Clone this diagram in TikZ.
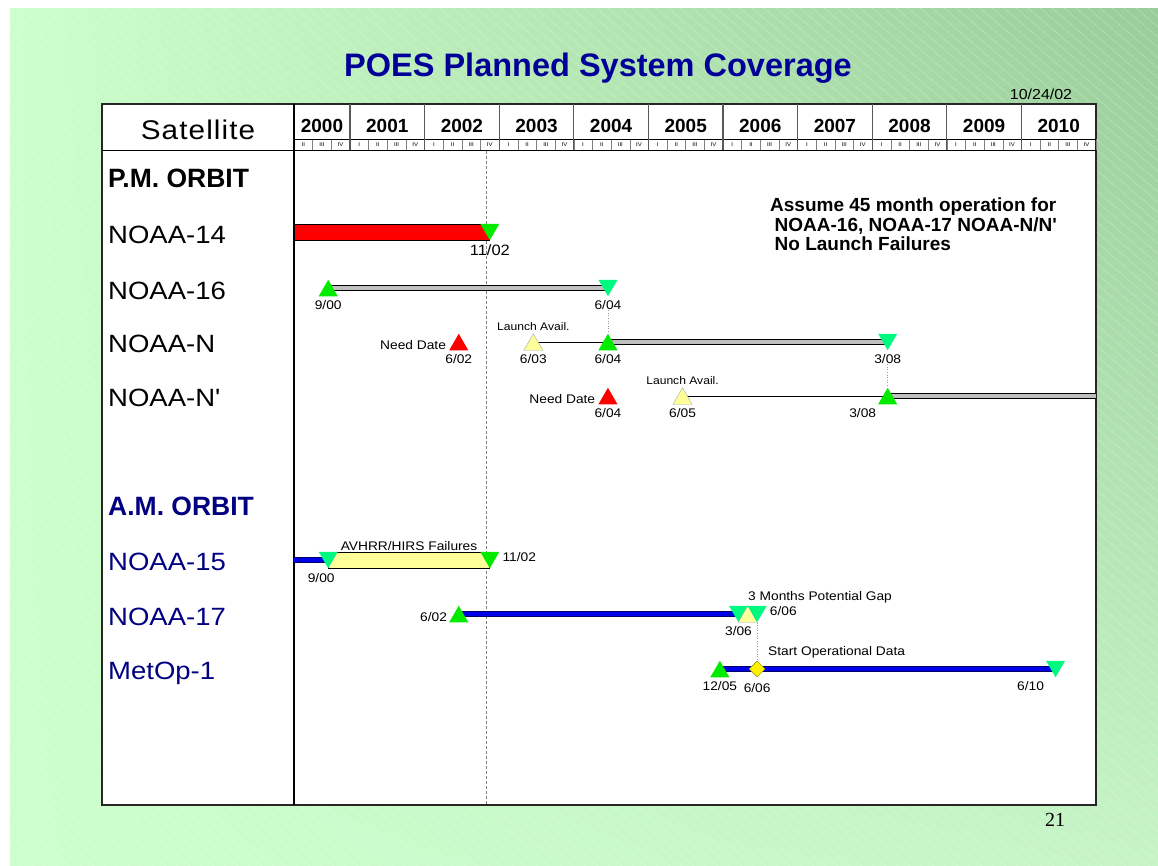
\documentclass[tikz,border=0pt]{standalone}
\usepackage{fontspec}
\setmainfont{Liberation Sans}
\newfontfamily\widefont[FakeStretch=1.1]{Liberation Sans}
\newfontfamily\pagefont{Liberation Serif}
\usepackage{tikz}
\usetikzlibrary{shapes,arrows,positioning,calc,shadings}
\definecolor{titleblue}{RGB}{0,0,153}
\definecolor{orbitblue}{RGB}{0,0,128}
\definecolor{bglight}{RGB}{204,255,204}
\definecolor{bgdark}{RGB}{153,204,153}
\definecolor{bglow}{RGB}{198,244,198}
\definecolor{launchgreen}{RGB}{0,235,0}
\definecolor{endgreen}{RGB}{0,250,128}
\definecolor{paleyellow}{RGB}{255,255,153}
\definecolor{barblue}{RGB}{0,0,235}
\newcommand{\datex}[2]{294+(#2+(#1-0.5)/12-0.25)*74.6}

\begin{document}
\begin{tikzpicture}[x=1pt, y=-1pt,
    upmark/.style={regular polygon, regular polygon sides=3, minimum size=22pt,
      inner sep=0pt, yshift=-2.75pt},
    downmark/.style={regular polygon, regular polygon sides=3, shape border rotate=180,
      minimum size=22pt, inner sep=0pt, yshift=2.75pt},
    rowlabel/.style={anchor=base west, inner sep=0pt, font=\widefont\fontsize{25}{30}\selectfont},
    orbitlabel/.style={anchor=base west, inner sep=0pt, font=\bfseries\fontsize{26.5}{30}\selectfont},
    yearlabel/.style={anchor=base, inner sep=0pt, font=\bfseries\fontsize{19}{22}\selectfont},
    quarterlabel/.style={inner sep=0pt, font=\widefont\fontsize{5.5}{6}\selectfont},
    datelabel/.style={inner sep=0pt, font=\widefont\fontsize{12.5}{14}\selectfont},
    notelabel/.style={inner sep=0pt, font=\widefont\fontsize{12.5}{14}\selectfont},
    graybar/.style={draw=black, line width=0.8pt, double=gray!50, double distance=3.5pt},
    bluebar/.style={draw=orbitblue!80!black, line width=0.9pt, double=barblue, double distance=3.5pt},
    thinbar/.style={draw=black, line width=0.8pt},
    dotline/.style={draw=gray!80, line width=0.6pt, dotted}
  ]
  \useasboundingbox (0,0) rectangle (1158,865);
  \fill[white] (0,0) rectangle (1158,865);
  \shade[upper left=bglight, upper right=bgdark, lower left=bglight, lower right=bglow]
    (10,8) rectangle (1158,865);
  \begin{scope}
    \clip (10,8) rectangle (1158,865);
    \foreach \i in {-1000,-988,...,1150}
      \draw[white, opacity=0.3, line width=0.5pt] (\i,8) -- ++(1000,860);
  \end{scope}

  \node[font=\bfseries\fontsize{32.5}{36}\selectfont, text=titleblue] (title) at (598,68)
    {POES Planned System Coverage};
  \node[datelabel, font=\widefont\fontsize{14.5}{16}\selectfont] (today) at (1041,94) {10/24/02};
  \node[font=\pagefont\fontsize{20}{22}\selectfont] (page) at (1055,820) {21};

  \draw[fill=white, draw=black!85, line width=1.3pt] (102,104) rectangle (1096,805);
  \foreach \q in {1,...,43} {
    \pgfmathtruncatemacro{\r}{mod(\q,4)+1}
    \node[quarterlabel] (q\q) at (294+18.65*\q-9.33,145)
      {\ifcase\r\or I\or II\or III\or IV\fi};
    \draw[gray, line width=0.4pt] (294+18.65*\q,139) -- (294+18.65*\q,150);
  }
  \draw[line width=0.6pt] (294,139) -- (1096,139);
  \node[yearlabel] (y2000) at (322,132) {2000};
  \foreach \yr [count=\k from 0] in {2001,...,2010} {
    \draw[gray!70!black, line width=1.2pt] (350+74.6*\k,104) -- (350+74.6*\k,150);
    \node[yearlabel] (y\yr) at (387.3+74.6*\k,132) {\yr};
  }
  \draw[line width=1pt] (102,150) -- (1096,150);
  \draw[line width=1.2pt] (294,104) -- (294,805);
  \node[anchor=base, inner sep=0pt, font=\widefont\fontsize{27}{30}\selectfont\addfontfeature{LetterSpace=4}]
    (sathead) at (198,139) {Satellite};

  \node[orbitlabel] (pm) at (108,187) {P.M. ORBIT};
  \node[rowlabel] (noaa14) at (108,243) {NOAA-14};
  \node[rowlabel] (noaa16) at (108,299) {NOAA-16};
  \node[rowlabel] (noaan) at (108,352.5) {NOAA-N};
  \node[rowlabel] (noaanp) at (108,406) {NOAA-N\textquotesingle};
  \node[orbitlabel, text=orbitblue] (am) at (108,515) {A.M. ORBIT};
  \node[rowlabel, text=orbitblue] (noaa15) at (108,570.5) {NOAA-15};
  \node[rowlabel, text=orbitblue] (noaa17) at (108,625) {NOAA-17};
  \node[rowlabel, text=orbitblue] (metop) at (108,679.5) {MetOp-1};

  \node[anchor=north west, inner sep=0pt, align=left,
        font=\bfseries\fontsize{19}{19.2}\selectfont] (assume) at (770,198)
    {Assume 45 month operation for\\\hspace{4.5pt}NOAA-16, NOAA-17 NOAA-N/N\textquotesingle\\\hspace{4.5pt}No Launch Failures};

  \coordinate (nowtop) at ({\datex{10.5}{2}},151);
  \coordinate (nowbot) at ({\datex{10.5}{2}},804);
  \draw[gray, line width=0.6pt, dash pattern=on 3pt off 2pt] (nowtop) -- (nowbot);

  \coordinate (c14s) at (294,232);
  \coordinate (d14e) at ({\datex{11}{2}},232);
  \coordinate (d16s) at ({\datex{9}{0}},288);
  \coordinate (d16e) at ({\datex{6}{4}},288);
  \coordinate (dNneed) at ({\datex{6}{2}},342);
  \coordinate (dNla) at ({\datex{6}{3}},342);
  \coordinate (dNs) at ({\datex{6}{4}},342);
  \coordinate (dNe) at ({\datex{3}{8}},342);
  \coordinate (dPneed) at ({\datex{6}{4}},396);
  \coordinate (dPla) at ({\datex{6}{5}},396);
  \coordinate (dPs) at ({\datex{3}{8}},396);
  \coordinate (ePe) at (1096,396);
  \coordinate (c15s) at (294,560);
  \coordinate (d15s) at ({\datex{9}{0}},560);
  \coordinate (d15e) at ({\datex{11}{2}},560);
  \coordinate (d17s) at ({\datex{6}{2}},614);
  \coordinate (d17a) at ({\datex{3}{6}},614);
  \coordinate (d17y) at ({\datex{4.5}{6}},614);
  \coordinate (d17b) at ({\datex{6}{6}},614);
  \coordinate (dMs) at ({\datex{12}{5}},669);
  \coordinate (dMop) at ({\datex{6}{6}},669);
  \coordinate (dMe) at ({\datex{6}{10}},669);

  \draw[fill=red, draw=black, line width=0.8pt] ([yshift=8pt]c14s) rectangle ([yshift=-8pt]d14e);
  \draw[graybar] (d16s) -- (d16e);
  \draw[thinbar] (dNla) -- (dNs);
  \draw[graybar] (dNs) -- (dNe);
  \draw[thinbar] (dPla) -- (dPs);
  \draw[graybar] (dPs) -- (ePe);
  \draw[bluebar] (c15s) -- (d15s);
  \draw[fill=paleyellow, draw=black, line width=0.8pt] ([yshift=8pt]d15s) rectangle ([yshift=-8pt]d15e);
  \draw[bluebar] (d17s) -- (d17a);
  \draw[bluebar] (dMs) -- (dMe);

  \node[downmark, fill=launchgreen] (t14e) at (d14e) {};
  \node[upmark, fill=launchgreen] (t16s) at (d16s) {};
  \node[downmark, fill=endgreen] (t16e) at (d16e) {};
  \node[upmark, fill=red] (tNneed) at (dNneed) {};
  \node[upmark, fill=paleyellow, draw=gray!70, line width=0.4pt] (tNla) at (dNla) {};
  \node[upmark, fill=launchgreen] (tNs) at (dNs) {};
  \node[downmark, fill=endgreen] (tNe) at (dNe) {};
  \node[upmark, fill=red] (tPneed) at (dPneed) {};
  \node[upmark, fill=paleyellow, draw=gray!70, line width=0.4pt] (tPla) at (dPla) {};
  \node[upmark, fill=launchgreen] (tPs) at (dPs) {};
  \node[downmark, fill=endgreen] (t15s) at (d15s) {};
  \node[downmark, fill=launchgreen] (t15e) at (d15e) {};
  \node[upmark, fill=launchgreen] (t17s) at (d17s) {};
  \node[downmark, fill=endgreen] (t17a) at (d17a) {};
  \node[upmark, fill=paleyellow, draw=gray!70, line width=0.4pt] (t17y) at (d17y) {};
  \node[downmark, fill=endgreen] (t17b) at (d17b) {};
  \node[upmark, fill=launchgreen] (tMs) at (dMs) {};
  \node[diamond, fill=yellow, draw=olive, line width=0.4pt, minimum size=16pt, inner sep=0pt] (tMop) at (dMop) {};
  \node[downmark, fill=endgreen] (tMe) at (dMe) {};

  \node[datelabel, font=\widefont\fontsize{15}{17}\selectfont, below=4pt of t14e] (l14e) {11/02};
  \node[datelabel, below=4pt of t16s] (l16s) {9/00};
  \node[datelabel, below=4pt of t16e] (l16e) {6/04};
  \node[notelabel, left=6pt of tNneed] (needN) {Need Date};
  \node[datelabel, below=4pt of tNneed] (lNneed) {6/02};
  \node[notelabel, font=\widefont\fontsize{11}{13}\selectfont, above=3pt of tNla] (availN) {Launch Avail.};
  \node[datelabel, below=4pt of tNla] (lNla) {6/03};
  \node[datelabel, below=4pt of tNs] (lNs) {6/04};
  \node[datelabel, below=4pt of tNe] (lNe) {3/08};
  \node[notelabel, left=6pt of tPneed] (needP) {Need Date};
  \node[datelabel, below=4pt of tPneed] (lPneed) {6/04};
  \node[notelabel, font=\widefont\fontsize{11}{13}\selectfont, above=3pt of tPla] (availP) {Launch Avail.};
  \node[datelabel, below=4pt of tPla] (lPla) {6/05};
  \node[datelabel, below=4pt of tPs, xshift=-25pt] (lPs) {3/08};
  \node[notelabel, above=9pt] (fail15) at ($(d15s)!0.5!(d15e)$) {AVHRR/HIRS Failures};
  \node[datelabel, below=5pt of t15s, xshift=-7pt] (l15s) {9/00};
  \node[datelabel, right=6pt of t15e] (l15e) {11/02};
  \node[datelabel, left=5pt of t17s] (l17s) {6/02};
  \node[datelabel, below=4pt of t17a] (l17a) {3/06};
  \node[datelabel, right=6pt of t17b] (l17b) {6/06};
  \node[notelabel, anchor=west] (gap17) at (748,597) {3 Months Potential Gap};
  \node[datelabel, below=4pt of tMs] (lMs) {12/05};
  \node[datelabel, below=6pt of tMop] (lMop) {6/06};
  \node[datelabel, below=4pt of tMe, xshift=-25pt] (lMe) {6/10};
  \node[notelabel, anchor=west] (opdata) at (768,652) {Start Operational Data};

  \draw[dotline] (l16e) -- (tNs);
  \draw[dotline] (lNe) -- (tPs);
  \draw[dotline] (t17b) -- (tMop);
\end{tikzpicture}
\end{document}
